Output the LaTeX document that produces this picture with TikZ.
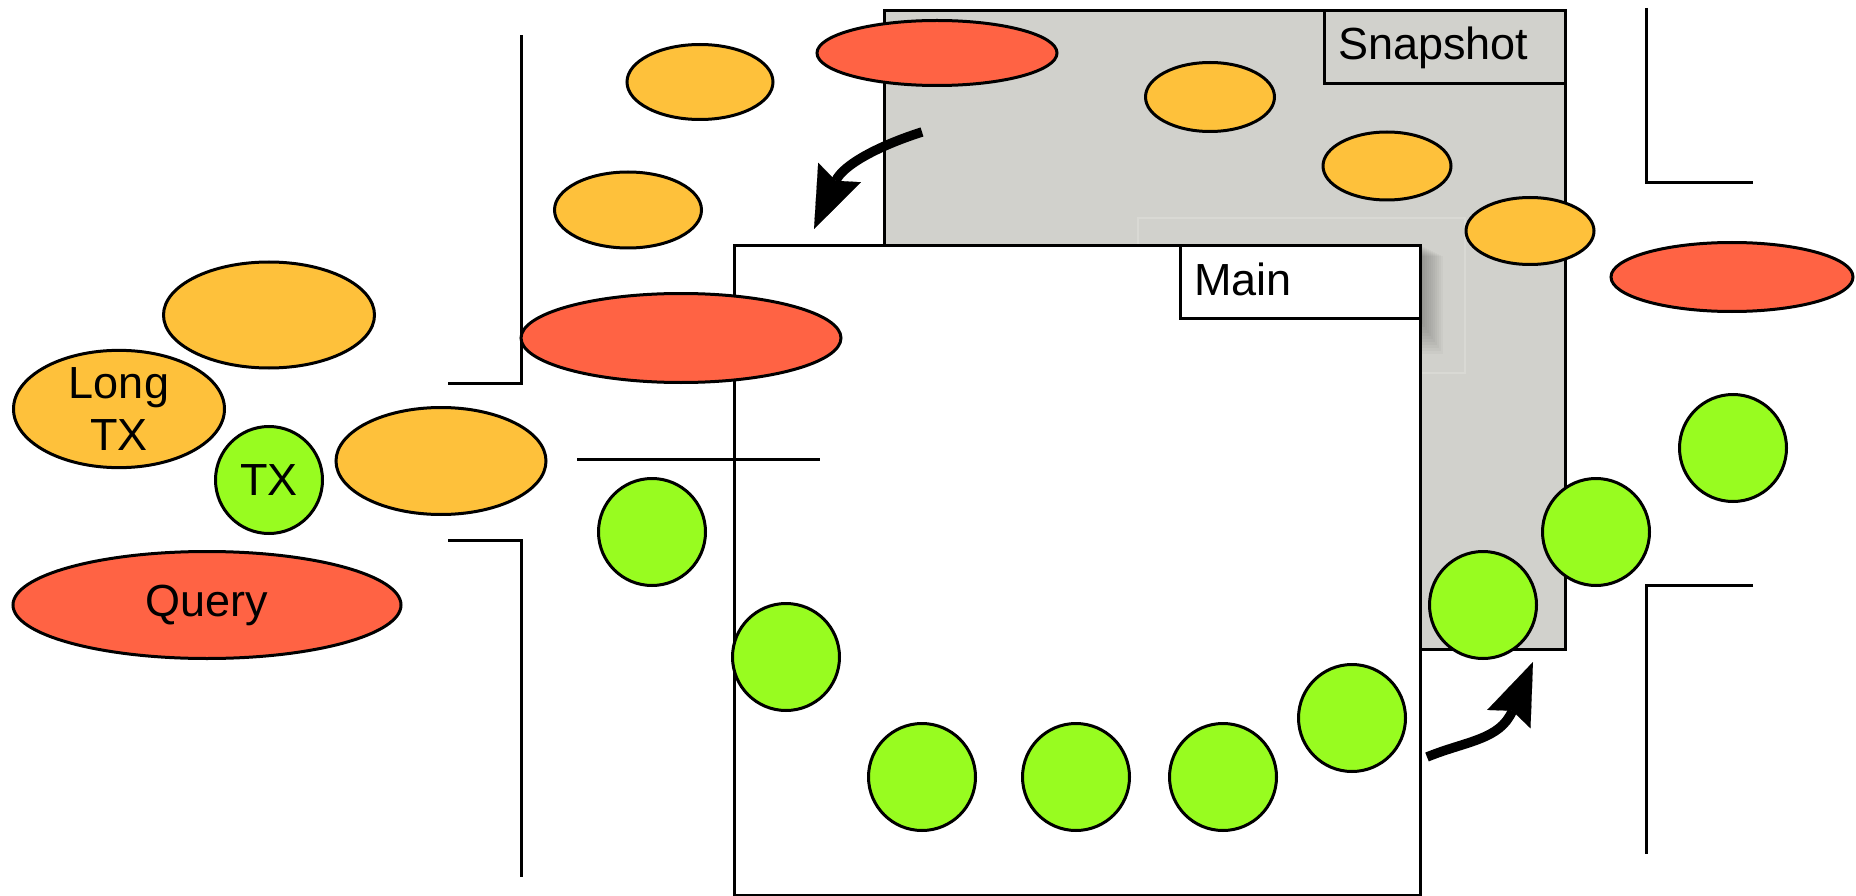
\documentclass[tikz,border=0pt]{standalone}
\usepackage{fontspec}
\setmainfont{Liberation Sans}
\usetikzlibrary{shapes.geometric,arrows.meta}
\definecolor{orangeF}{RGB}{254,193,59}
\definecolor{redF}{RGB}{255,99,68}
\definecolor{greenF}{RGB}{152,252,32}
\definecolor{snapgray}{RGB}{209,209,204}
\definecolor{faintline}{RGB}{217,217,212}
\tikzset{
  bl/.style={line width=3pt},
  blob/.style={shape=ellipse, draw=black, line width=3pt, inner sep=0pt,
    font=\fontsize{45}{52}\selectfont, align=center},
  oel/.style={blob, fill=orangeF},
  rel/.style={blob, fill=redF},
  gc/.style={blob, fill=greenF, minimum width=107pt, minimum height=107pt},
  panel/.style={rectangle, draw=black, line width=3pt, inner sep=0pt, anchor=north west},
  lbl/.style={font=\fontsize{45}{52}\selectfont, anchor=base west, inner sep=0pt},
  bigarrow/.style={line width=9.5pt, -{Stealth[length=62pt,width=47pt,inset=9pt,line width=0.1pt]}}
}
\begin{document}
\begin{tikzpicture}[x=1pt,y=-1pt]
\useasboundingbox (0,0) rectangle (1856,896);
% Snapshot panel
\node[panel, fill=snapgray, minimum width=681pt, minimum height=639pt] (snap) at (883,9) {};
\node[panel, fill=snapgray, minimum width=241pt, minimum height=73pt] (snaplbl) at (1323,9) {};
\node[lbl] (snaptxt) at (1338,60) {Snapshot};
% faint outline and shadow of the Main label
\draw[faintline, line width=1.2pt] (1138,218) rectangle (1465,373);
\foreach \i in {1,...,12}
  \fill[black, opacity=0.028] (1419,244+\i) rectangle (1419+2*\i, 318+3*\i);
% Main panel
\node[panel, fill=white, minimum width=686pt, minimum height=650pt] (main) at (733,244) {};
\node[panel, fill=white, minimum width=240pt, minimum height=73pt] (mainlbl) at (1179,244) {};
\node[lbl] (maintxt) at (1194,295) {Main};
% bracket lines
\coordinate (b1a) at (448,383); \coordinate (b1b) at (521,383); \coordinate (b1c) at (521,35);
\draw[bl] (b1a) -- (b1b) -- (b1c);
\coordinate (b2a) at (448,540); \coordinate (b2b) at (521,540); \coordinate (b2c) at (521,877);
\draw[bl] (b2a) -- (b2b) -- (b2c);
\coordinate (h1) at (577,459); \coordinate (h2) at (820,459);
\draw[bl] (h1) -- (h2);
\coordinate (b3a) at (1646,8); \coordinate (b3b) at (1646,183); \coordinate (b3c) at (1753,183);
\draw[bl] (b3a) -- (b3b) -- (b3c);
\coordinate (b4a) at (1753,585); \coordinate (b4b) at (1646,585); \coordinate (b4c) at (1646,854);
\draw[bl] (b4a) -- (b4b) -- (b4c);
% orange ellipses
\node[oel, minimum width=146pt, minimum height=75pt] (o1) at (700,82) {};
\node[oel, minimum width=147pt, minimum height=76pt] (o2) at (628,210) {};
\node[oel, minimum width=211pt, minimum height=106pt] (o3) at (269,315) {};
\node[oel, minimum width=211pt, minimum height=108pt] (longtx) at (119,409) {Long\\TX};
\node[oel, minimum width=210pt, minimum height=107pt] (o4) at (441,461) {};
\node[oel, minimum width=129pt, minimum height=69pt] (o5) at (1210,97) {};
\node[oel, minimum width=128pt, minimum height=68pt] (o6) at (1387,166) {};
\node[oel, minimum width=128pt, minimum height=67pt] (o7) at (1530,231) {};
% red ellipses
\node[rel, minimum width=240pt, minimum height=65pt] (r1) at (937,53) {};
\node[rel, minimum width=320pt, minimum height=89pt] (r2) at (681,338) {};
\node[rel, minimum width=242pt, minimum height=69pt] (r3) at (1732,277) {};
\node[rel, minimum width=388pt, minimum height=107pt] (query) at (207,605) {Query};
% green circles
\node[gc] (tx) at (269,480) {TX};
\node[gc] (g1) at (652,532) {};
\node[gc] (g2) at (786,657) {};
\node[gc] (g3) at (922,777) {};
\node[gc] (g4) at (1076,777) {};
\node[gc] (g5) at (1223,777) {};
\node[gc] (g6) at (1352,718) {};
\node[gc] (g7) at (1483,605) {};
\node[gc] (g8) at (1596,532) {};
\node[gc] (g9) at (1733,448) {};
% arrows
\coordinate (a1s) at (922,132); \coordinate (a1e) at (814,229);
\draw[bigarrow] (a1s) .. controls (878,146) and (843,165) .. (a1e);
\coordinate (a2s) at (1427,757); \coordinate (a2e) at (1533,662);
\draw[bigarrow] (a2s) .. controls (1466,741) and (1500,740) .. (a2e);
\end{tikzpicture}
\end{document}
